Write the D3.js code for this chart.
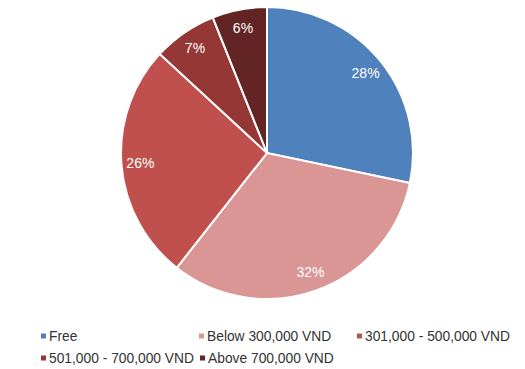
<!DOCTYPE html>
<html>
<head>
<meta charset="utf-8">
<script src="https://cdn.jsdelivr.net/npm/d3@7"></script>
<style>
  body { margin: 0; background: #fff; }
  text { font-family: "Liberation Sans", Arial, sans-serif; }
</style>
</head>
<body>
<div id="chart"></div>
<script>
// Data
let categories = ['Free', 'Below 300,000 VND', '301,000 - 500,000 VND', '501,000 - 700,000 VND', 'Above 700,000 VND'];
let values = [28, 32, 26, 7, 6];
let colors = ['#4F81BD', '#D99694', '#C0504D', '#953735', '#632523'];

let width = 525,
    height = 369,
    cx = 267,
    cy = 153,
    radius = 146;

let data = categories.map(function (c, i) {
    return { name: c, value: values[i], color: colors[i] };
});

let svg = d3.select('#chart')
    .append('svg')
    .attr('width', width)
    .attr('height', height);

let pie = d3.pie()
    .sort(null)
    .value(function (d) { return d.value; });

let arc = d3.arc()
    .innerRadius(0)
    .outerRadius(radius);

let labelArc = d3.arc()
    .innerRadius(radius * 0.87)
    .outerRadius(radius * 0.87);

let g = svg.append('g')
    .attr('transform', 'translate(' + cx + ',' + cy + ')');

let slices = g.selectAll('.slice')
    .data(pie(data))
    .enter()
    .append('g')
    .attr('class', 'slice');

slices.append('path')
    .attr('d', arc)
    .attr('fill', function (d) { return d.data.color; })
    .attr('stroke', '#fff')
    .attr('stroke-width', 2);

slices.append('text')
    .attr('transform', function (d) { return 'translate(' + labelArc.centroid(d) + ')'; })
    .attr('text-anchor', 'middle')
    .attr('dy', '0.35em')
    .attr('fill', '#fff')
    .style('font-size', '14px')
    .text(function (d) { return d.data.value + '%'; });

// Legend
let legendPos = [
    [41, 336], [199, 336], [357, 336],
    [41, 358], [200, 358]
];

let legend = svg.selectAll('.legend')
    .data(data)
    .enter()
    .append('g')
    .attr('class', 'legend')
    .attr('transform', function (d, i) {
        return 'translate(' + legendPos[i][0] + ',' + legendPos[i][1] + ')';
    });

legend.append('rect')
    .attr('x', 0)
    .attr('y', -2.5)
    .attr('width', 5)
    .attr('height', 5)
    .attr('fill', function (d) { return d.color; });

legend.append('text')
    .attr('x', 8)
    .attr('dy', '0.35em')
    .attr('fill', '#333')
    .style('font-size', '13.8px')
    .text(function (d) { return d.name; });
</script>
</body>
</html>
